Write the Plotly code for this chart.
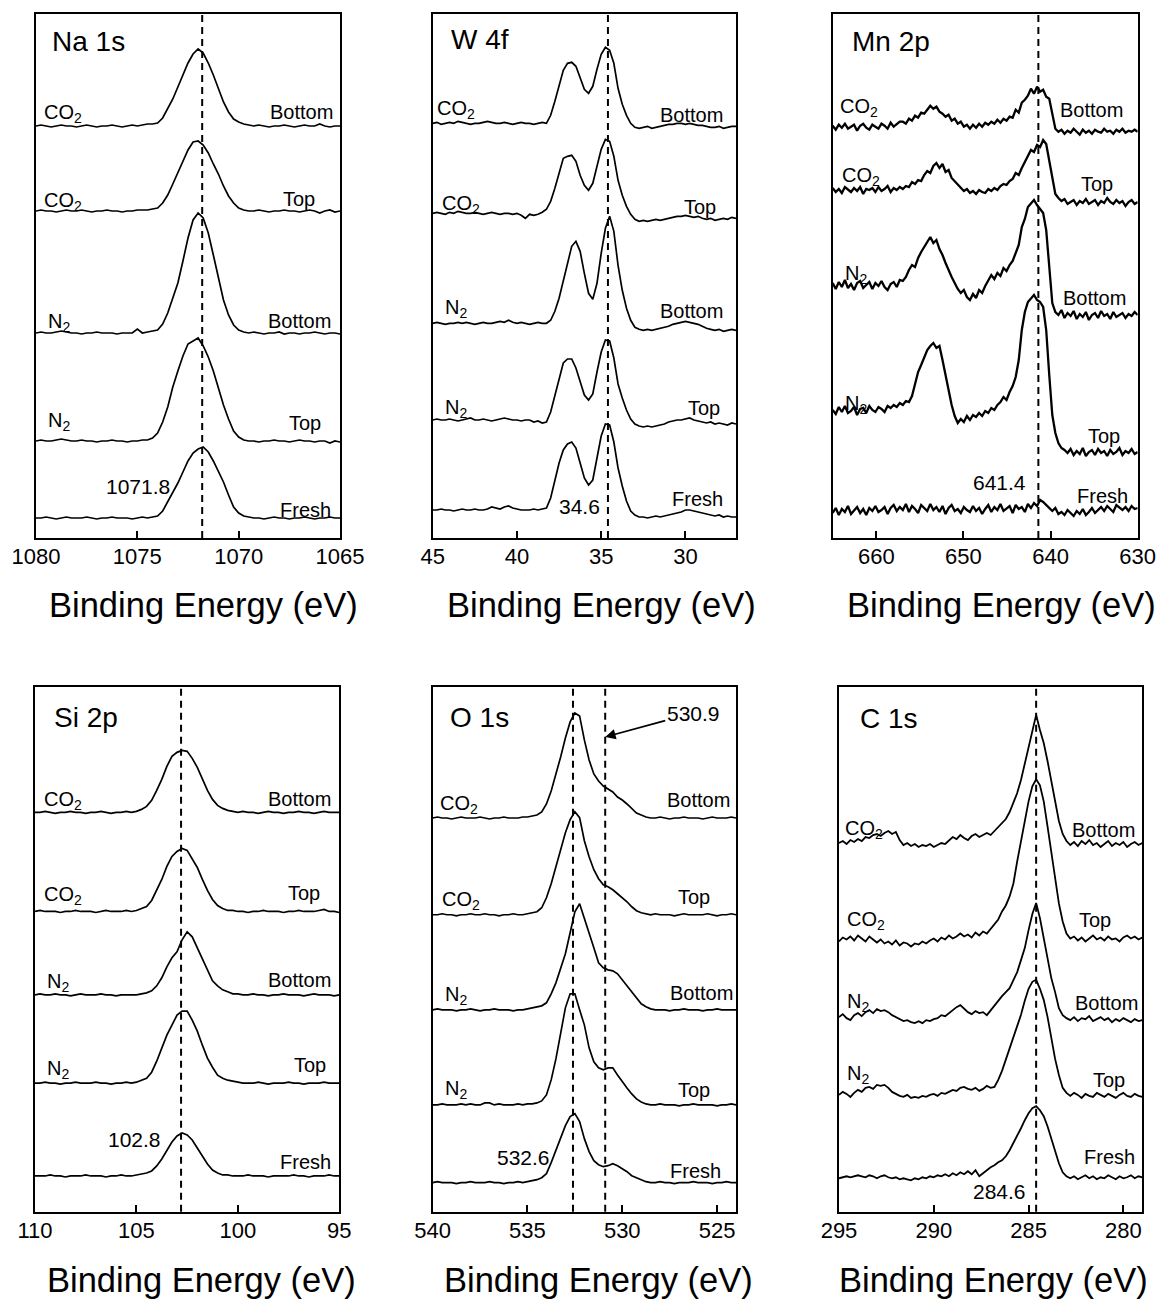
import numpy as np
import plotly.graph_objects as go

W, H = 1160, 1299
FONT = "Liberation Sans, Arial, Helvetica, sans-serif"

# ---------------- Na 1s ----------------
na_range = (1080, 1065)
na_ticks = [1080, 1075, 1070, 1065]
na_refs = [1071.8]
na_offsets = [412, 327, 205, 97, 20]
na_co2_bottom = [0,1,0,-1,0,1,0,0,-1,0,1,0,-1,0,0,1,0,-1,0,1,0,1,2,2,
                 3,8,17,27,39,52,63,72,77,73,63,51,38,24,14,7,4,2,
                 1,0,1,0,-1,0,0,1,0,-1,0,1,0,0,2,0,-1,0,0]
na_co2_top = [0,1,0,0,-1,0,1,0,0,1,0,-1,0,0,1,0,0,-1,0,0,1,1,1,2,
              3,8,16,27,38,50,61,69,70,66,58,47,37,25,15,8,3,1,
              0,0,1,0,-1,0,0,1,0,0,-1,0,1,0,-2,0,1,-1,0]
na_n2_bottom = [0,1,0,0,1,2,1,0,0,-1,0,0,1,0,0,0,-1,0,0,0,4,0,1,2,
                3,9,20,35,50,72,95,113,120,115,100,78,54,33,18,8,3,1,
                0,1,0,-1,0,0,1,-1,0,0,-1,0,0,1,0,-1,0,0,-1]
na_n2_top = [0,1,0,0,1,2,1,0,0,1,0,0,-1,0,0,1,0,0,-1,0,0,1,1,3,
             8,19,34,54,70,85,97,100,103,95,84,70,52,36,22,10,4,1,
             0,0,-1,0,0,1,0,0,-1,0,1,0,0,-1,0,0,-2,0,-1]
na_fresh = [0,0,1,0,-1,0,1,0,0,0,1,0,-1,0,0,1,0,0,0,-1,0,1,0,1,
            2,7,16,25,35,46,57,65,69,71,66,57,47,36,23,11,5,2,
            1,0,0,-1,0,1,0,0,-1,0,0,1,0,-1,0,0,1,0,0]

# ---------------- W 4f ----------------
w_range = (45, 27)
w_ticks = [45, 40, 35, 30]
w_refs = [34.6]
w_offsets = [414.7, 324.7, 214.7, 118, 28]
w_co2_bottom = [0,1,-1,0,1,0,2,1,0,-1,0,0,1,2,1,0,0,1,0,-1,0,1,0,0,-1,0,1,
                0,8,22,39,53,60,61,57,45,34,30,37,54,69,76,73,60,35,19,8,0,-4,-5,
                -4,-3,-5,-4,-3,-2,-1,-1,0,0,-1,0,-1,-2,-2,-3,-4,-4,-3,-5,-4,-3,-3]
w_co2_top = [0,1,0,-1,1,0,2,1,0,0,1,0,-1,0,1,0,-1,0,0,-1,0,-2,-5,-1,-2,-1,1,
             4,12,25,40,55,57,58,52,38,28,23,30,48,64,74,72,57,33,18,7,-1,-6,-8,
             -7,-8,-7,-6,-7,-6,-5,-4,-3,-3,-2,-3,-4,-3,-5,-6,-5,-7,-6,-5,-6,-4,-5]
w_n2_bottom = [0,1,0,-1,0,0,1,0,1,0,-1,0,1,0,0,1,2,1,3,1,0,1,0,-1,0,1,0,
               0,3,12,25,42,62,77,82,72,50,30,24,40,70,95,107,92,58,33,15,3,-4,-6,
               -7,-6,-7,-6,-5,-4,-3,-1,0,1,2,1,0,-1,-3,-5,-6,-7,-6,-8,-7,-6,-7]
w_n2_top = [0,1,0,0,1,0,-1,0,1,2,0,0,1,0,-1,0,1,2,1,0,0,-1,0,0,-2,-1,-3,
            -2,8,25,42,57,61,61,52,38,25,20,26,48,68,80,79,62,36,22,10,1,-4,-6,
            -7,-6,-7,-6,-5,-4,-2,-1,0,0,1,2,0,-1,-2,-3,-2,-4,-3,-4,-5,-3,-4]
w_fresh = [0,0,1,0,0,-1,0,1,0,0,1,0,0,1,3,2,1,3,4,2,1,0,0,0,1,0,1,
           2,12,30,47,60,66,68,62,47,32,25,30,52,74,86,85,68,42,24,9,-1,-5,-7,
           -7,-8,-7,-6,-7,-6,-5,-4,-3,-2,0,0,-1,-2,-3,-4,-5,-6,-5,-7,-6,-7,-7]

# ---------------- Mn 2p ----------------
mn_range = (665, 630)
mn_ticks = [660, 650, 640, 630]
mn_refs = [641.4]
mn_offsets = [411.3, 348, 253, 128, 28]
mn_co2_bottom = [1,-3,2,-1,3,-2,0,2,-4,1,3,-1,-3,2,0,-2,3,1,-2,4,0,3,5,
                 5,3,8,6,11,9,14,13,17,21,18,20,15,13,10,12,6,8,3,5,0,2,
                 -2,2,-1,3,0,4,2,5,3,7,4,8,6,10,9,
                 17,14,24,27,31,38,33,40,35,37,30,28,12,
                 -2,-5,-3,-7,-4,-6,-2,-5,-8,-3,-6,-4,-7,-3,-5,-6,-2,-5,-4,-7,-3,-5,-2,-6,-4,-5,-3,-5]
mn_co2_top = [2,-2,1,-3,3,0,-2,2,-1,3,-4,1,0,2,-2,3,-1,1,4,-2,2,0,3,
              1,4,3,8,6,10,9,15,19,17,24,27,22,26,18,20,12,9,5,2,-1,1,
              -3,-1,-4,0,-2,-3,1,-1,2,0,4,6,5,9,11,
              17,15,22,28,33,40,38,45,43,50,46,30,10,
              -4,-8,-11,-9,-14,-12,-10,-15,-11,-13,-9,-14,-12,-10,-15,-11,-13,-8,-12,-14,-10,-13,-11,-16,-12,-10,-14,-12]
mn_n2_bottom = [2,-4,3,-2,5,-3,1,-5,2,4,-3,0,3,-4,2,-1,4,-2,-5,1,3,-2,5,
                4,8,15,20,18,27,33,38,44,48,42,45,36,30,22,14,8,2,-4,-8,-5,-12,
                -15,-9,-13,-5,-8,-1,4,10,6,12,9,17,14,20,24,
                32,40,58,66,78,82,85,80,76,72,55,20,-18,
                -27,-30,-25,-33,-28,-31,-26,-34,-29,-32,-27,-35,-30,-28,-33,-26,-31,-29,-34,-27,-32,-30,-28,-33,-29,-31,-27,-30]
mn_n2_top = [0,-4,3,-2,4,-3,-1,3,-5,1,2,-3,4,0,-2,3,1,-2,4,2,5,3,7,
             5,9,8,14,25,38,45,52,60,64,67,62,64,50,35,22,5,-6,-13,-9,-12,-6,
             -10,-5,-7,-3,-6,-1,-3,2,0,5,8,13,10,18,24,
             33,50,80,98,108,112,115,110,108,103,80,35,-5,
             -23,-33,-38,-40,-43,-39,-45,-41,-44,-38,-46,-42,-40,-45,-39,-43,-41,-46,-40,-44,-42,-38,-45,-41,-43,-39,-44,-42]
mn_fresh = [-3,2,-5,1,-2,4,-4,0,3,-3,1,-5,2,-1,4,-2,0,3,-4,2,
            5,-1,3,0,6,-2,4,1,-3,5,2,-1,6,0,3,-2,4,-4,2,5,
            -1,1,-3,3,0,-2,4,-1,2,-4,1,5,-2,3,0,6,-1,2,4,-3,
            5,1,3,-2,6,2,7,4,10,8,5,3,-1,2,-4,-2,-5,0,-3,-6,
            -1,-4,1,-5,-2,2,-3,0,3,-1,4,1,-2,5,2,0,3,-1,4,1,2]

# ---------------- Si 2p ----------------
si_range = (110, 95)
si_ticks = [110, 105, 100, 95]
si_refs = [102.8]
si_offsets = [399, 300, 216.7, 128.4, 35.7]
si_co2_bottom = [0,0,1,0,-1,0,0,1,0,0,-1,0,0,1,0,-1,0,0,1,0,
                 1,3,6,12,22,33,46,56,60,62,61,54,45,33,22,13,7,4,2,1,
                 0,1,0,0,-1,0,1,0,0,-1,0,0,1,0,0,-1,0,1,0,0,0]
si_co2_top = [0,1,0,0,0,-1,0,0,1,0,0,0,-1,0,1,0,0,0,1,0,
              1,3,5,11,21,32,45,55,60,63,61,53,44,32,21,12,6,3,1,1,
              0,0,-1,0,0,1,0,0,0,-1,0,0,1,0,0,0,1,2,0,0,-1]
si_n2_bottom = [0,1,0,0,1,0,0,-1,0,1,0,0,0,1,0,0,-1,0,0,0,
                0,1,2,4,9,17,28,37,43,55,63,58,47,36,24,14,9,5,3,1,
                1,0,0,1,0,0,-1,0,0,1,0,0,0,-1,0,1,0,0,0,-1,0]
si_n2_top = [0,0,1,0,0,-1,0,0,1,0,0,0,1,0,0,-1,0,0,1,0,
             1,3,5,11,22,35,48,58,68,72,72,63,52,38,25,16,8,5,3,2,
             1,0,0,0,1,0,-1,0,0,0,1,0,0,-1,0,0,0,1,0,0,0]
si_fresh = [0,0,0,1,0,0,-1,0,0,0,1,0,0,0,-1,0,0,1,0,0,
            1,2,3,5,10,17,26,34,40,43,41,36,28,20,12,6,3,1,1,0,
            0,0,1,0,0,0,-1,0,0,0,0,1,0,0,-1,0,0,0,1,0,0]

# ---------------- O 1s ----------------
o_range = (540, 524)
o_ticks = [540, 535, 530, 525]
o_refs = [532.6, 530.9]
o_offsets = [393.4, 296.7, 201.7, 106.7, 29]
o_co2_bottom = [0,1,0,0,-1,0,1,0,0,0,1,0,-1,0,0,1,0,0,0,1,
                1,2,3,6,14,27,43,61,80,96,105,102,78,58,44,37,32,29,26,21,18,14,9,5,3,1,
                0,0,1,0,-1,0,0,1,0,0,0,-1,0,1,0,0,0,1,0]
o_co2_top = [0,0,1,0,0,-1,0,0,1,0,0,1,0,0,-1,0,0,1,0,0,
             1,2,3,7,17,31,48,66,82,95,103,97,74,58,45,36,30,28,25,21,17,13,8,4,2,1,
             0,1,0,0,0,-1,0,1,0,0,0,0,1,0,-1,0,0,1,0]
o_n2_bottom = [0,1,0,0,0,-1,0,0,1,0,-1,0,0,1,0,0,0,-1,0,0,
               1,2,3,4,7,16,27,41,56,77,98,106,92,77,62,47,42,40,39,36,30,24,17,11,6,3,
               1,0,0,0,-1,0,0,1,0,0,0,-1,0,0,1,0,0,0,0]
o_n2_top = [0,0,1,0,0,0,1,0,1,0,0,2,2,0,1,0,0,0,1,0,
            1,1,2,4,10,25,46,72,97,111,111,95,80,57,43,37,35,37,37,30,23,17,11,6,3,1,
            0,0,1,0,0,0,-1,0,0,1,0,0,0,0,-1,0,0,1,0]
o_fresh = [0,1,0,0,0,-1,0,0,1,0,0,0,1,0,0,-1,0,0,1,0,
           1,2,3,5,9,20,32,45,57,66,69,61,44,31,22,18,16,17,19,17,14,11,7,5,3,1,
           0,0,1,0,0,-1,0,0,0,1,0,0,0,-1,0,0,1,0,0]

# ---------------- C 1s ----------------
c_range = (295, 279)
c_ticks = [295, 290, 285, 280]
c_refs = [284.6]
c_offsets = [368.4, 270, 193.4, 116.7, 33.4]
c_co2_bottom = [0,2,-1,3,1,4,2,6,5,8,9,7,10,12,9,11,3,-2,0,-3,-1,-4,-2,-3,-1,-4,-2,0,-1,3,6,4,8,5,3,7,9,6,8,10,8,
                12,15,19,24,31,40,50,63,80,96,112,128,113,100,82,62,42,22,9,2,
                -2,1,-3,2,-1,3,-2,0,-4,-1,2,-3,0,-2,1,-4,-1,1,-2,0]
c_co2_top = [0,4,2,5,1,6,3,0,5,2,-1,2,-2,0,-3,1,-4,-1,-2,-5,-2,-3,0,-2,1,3,0,4,2,6,3,5,8,5,7,4,9,6,10,8,13,
             17,22,30,36,45,58,80,100,122,140,155,162,156,140,115,88,62,38,20,8,
             3,5,1,4,0,3,6,2,4,1,5,2,3,0,4,6,3,5,2,4]
c_n2_bottom = [1,4,0,-2,3,5,2,6,8,5,9,7,8,6,3,1,-1,-3,-2,-4,-5,-3,-5,-2,-3,-1,0,3,2,5,8,11,13,9,6,4,7,5,6,3,8,
               12,18,22,26,30,38,46,58,70,88,104,115,100,80,58,40,26,10,3,0,
               -2,1,-3,0,-1,2,-3,-1,1,-2,0,-4,-1,-3,0,-2,-4,-1,-3,-2]
c_n2_top = [0,3,1,-2,2,5,3,7,8,6,10,9,10,7,3,1,-1,-2,0,-3,-2,-3,-1,-2,0,1,-1,2,1,3,5,4,7,8,6,5,7,4,6,9,7,
            8,15,24,35,45,57,68,80,94,106,113,115,106,95,78,55,36,20,7,2,
            -1,2,0,-3,1,-1,-2,2,0,-2,1,-1,-3,0,2,-1,-2,1,-1,-2]
c_fresh = [0,1,2,1,2,3,2,1,3,2,0,2,3,1,0,1,-1,0,-1,-2,0,-1,1,0,2,1,3,2,4,2,5,3,6,4,7,4,8,2,5,8,11,
           13,16,18,22,28,35,42,50,58,65,70,72,68,62,52,40,27,15,6,2,
           0,2,-1,1,3,0,2,-1,1,0,3,1,-1,2,0,1,3,0,2,1]

gas_labels = ["CO<sub>2</sub>", "CO<sub>2</sub>", "N<sub>2</sub>", "N<sub>2</sub>"]
site_labels = ["Bottom", "Top", "Bottom", "Top", "Fresh"]

Y_SPAN = 524

# panel frames in pixels: (left, top, right, bottom)
panels = [
    dict(name="Na 1s", rng=na_range, ticks=na_ticks, refs=na_refs, offs=na_offsets,
         curves=[na_co2_bottom, na_co2_top, na_n2_bottom, na_n2_top, na_fresh],
         box=(36, 14, 340, 538), lw=1.7,
         title_xy=(50, 41),
         gas_xy=[(42, 114), (42, 201), (46, 322), (46, 421)],
         site_xy=[(335, 112), (317, 199), (333, 321), (323, 423), (333, 510)],
         value=("1071.8", 172, 486), axis_title_x=203, axis_title_y=605),
    dict(name="W 4f", rng=w_range, ticks=w_ticks, refs=w_refs, offs=w_offsets,
         curves=[w_co2_bottom, w_co2_top, w_n2_bottom, w_n2_top, w_fresh],
         box=(432.7, 14, 736, 538), lw=1.7,
         title_xy=(449, 40),
         gas_xy=[(435, 110), (440, 205), (443, 309), (443, 408)],
         site_xy=[(725, 115), (718, 207), (725, 311), (722, 408), (725, 499)],
         value=("34.6", 602, 506), axis_title_x=601, axis_title_y=605),
    dict(name="Mn 2p", rng=mn_range, ticks=mn_ticks, refs=mn_refs, offs=mn_offsets,
         curves=[mn_co2_bottom, mn_co2_top, mn_n2_bottom, mn_n2_top, mn_fresh],
         box=(832.7, 14, 1137.7, 538), lw=2.3,
         title_xy=(850, 42),
         gas_xy=[(838, 108), (840, 177), (843, 275), (843, 404)],
         site_xy=[(1125, 110), (1115, 184), (1128, 298), (1122, 436), (1130, 496)],
         value=("641.4", 1028, 483), axis_title_x=1001, axis_title_y=605),
    dict(name="Si 2p", rng=si_range, ticks=si_ticks, refs=si_refs, offs=si_offsets,
         curves=[si_co2_bottom, si_co2_top, si_n2_bottom, si_n2_top, si_fresh],
         box=(35, 687.3, 339.3, 1211.7), lw=1.7,
         title_xy=(52, 717),
         gas_xy=[(42, 800), (42, 895), (45, 982), (45, 1069)],
         site_xy=[(333, 799), (322, 893), (333, 980), (328, 1065), (333, 1162)],
         value=("102.8", 163, 1139), axis_title_x=202, axis_title_y=1280),
    dict(name="O 1s", rng=o_range, ticks=o_ticks, refs=o_refs, offs=o_offsets,
         curves=[o_co2_bottom, o_co2_top, o_n2_bottom, o_n2_top, o_fresh],
         box=(432.7, 687.3, 736, 1211.7), lw=1.7,
         title_xy=(448, 717),
         gas_xy=[(438, 804), (440, 900), (443, 995), (443, 1089)],
         site_xy=[(732, 800), (712, 897), (735, 993), (712, 1090), (723, 1171)],
         value=("532.6", 552, 1157), axis_title_x=598, axis_title_y=1280),
    dict(name="C 1s", rng=c_range, ticks=c_ticks, refs=c_refs, offs=c_offsets,
         curves=[c_co2_bottom, c_co2_top, c_n2_bottom, c_n2_top, c_fresh],
         box=(839, 687.3, 1142.3, 1211.7), lw=1.8,
         title_xy=(858, 718),
         gas_xy=[(843, 829), (845, 920), (845, 1002), (845, 1074)],
         site_xy=[(1137, 830), (1113, 920), (1140, 1003), (1127, 1080), (1137, 1157)],
         value=("284.6", 1028, 1191), axis_title_x=993, axis_title_y=1280),
]


def px(x):
    return x / W


def py(y):
    return 1 - y / H


fig = go.Figure()
annotations = []
shapes = []
layout_axes = {}

for k, p in enumerate(panels, start=1):
    xa = "x" if k == 1 else f"x{k}"
    ya = "y" if k == 1 else f"y{k}"
    left, top, right, bottom = p["box"]
    e0, e1 = p["rng"]

    for vals, off in zip(p["curves"], p["offs"]):
        energy = np.linspace(e0, e1, len(vals))
        fig.add_trace(go.Scatter(
            x=energy, y=np.asarray(vals, dtype=float) + off,
            mode="lines", line=dict(color="black", width=p["lw"]),
            xaxis=xa, yaxis=ya, showlegend=False, hoverinfo="skip"))

    layout_axes["xaxis" if k == 1 else f"xaxis{k}"] = dict(
        domain=[px(left), px(right)], anchor=ya, range=[e0, e1],
        tickvals=p["ticks"], ticktext=[str(t) for t in p["ticks"]],
        ticks="inside", ticklen=7, tickwidth=1.5, tickcolor="black",
        showline=True, mirror=True, linecolor="black", linewidth=1.6,
        showgrid=False, zeroline=False, ticklabelstandoff=-2, automargin=False,
        tickfont=dict(family=FONT, size=22, color="black"))
    layout_axes["yaxis" if k == 1 else f"yaxis{k}"] = dict(
        domain=[py(bottom), py(top)], anchor=xa, range=[0, Y_SPAN],
        showticklabels=False, ticks="", showline=True, mirror=True, automargin=False,
        linecolor="black", linewidth=1.6, showgrid=False, zeroline=False)

    for e in p["refs"]:
        shapes.append(dict(type="line", xref=xa, yref=f"{ya} domain",
                           x0=e, x1=e, y0=0, y1=1,
                           line=dict(color="black", width=2, dash="7px,5px")))

    tx, ty = p["title_xy"]
    annotations.append(dict(text=p["name"], x=px(tx), y=py(ty), xref="paper", yref="paper",
                            xanchor="left", yanchor="middle", showarrow=False,
                            font=dict(family=FONT, size=28, color="black")))
    for lab, (gx, gy) in zip(gas_labels, p["gas_xy"]):
        annotations.append(dict(text=lab, x=px(gx), y=py(gy), xref="paper", yref="paper",
                                xanchor="left", yanchor="middle", showarrow=False,
                                font=dict(family=FONT, size=20, color="black")))
    for lab, (sx, sy) in zip(site_labels, p["site_xy"]):
        annotations.append(dict(text=lab, x=px(sx), y=py(sy), xref="paper", yref="paper",
                                xanchor="right", yanchor="middle", showarrow=False,
                                font=dict(family=FONT, size=20, color="black")))
    vt, vx, vy = p["value"]
    annotations.append(dict(text=vt, x=px(vx), y=py(vy), xref="paper", yref="paper",
                            xanchor="right", yanchor="middle", showarrow=False,
                            font=dict(family=FONT, size=21, color="black")))
    annotations.append(dict(text="Binding Energy (eV)", x=px(p["axis_title_x"]),
                            y=py(p["axis_title_y"]), xref="paper", yref="paper",
                            xanchor="center", yanchor="middle", showarrow=False,
                            font=dict(family=FONT, size=34.5, color="black")))

# arrow pointing at the 530.9 eV reference line in the O 1s panel
annotations.append(dict(text="530.9", x=o_refs[1], y=py(737), xref="x5", yref="paper",
                        ax=88, ay=-24, axref="pixel", ayref="pixel",
                        showarrow=True, arrowhead=2, arrowsize=1.3, arrowwidth=1.6,
                        arrowcolor="black", standoff=0,
                        font=dict(family=FONT, size=21, color="black")))

fig.update_layout(width=W, height=H, autosize=False, margin=dict(l=0, r=0, t=0, b=0, pad=0),
                  paper_bgcolor="white", plot_bgcolor="white",
                  annotations=annotations, shapes=shapes, **layout_axes)

fig.write_html("out.html")
